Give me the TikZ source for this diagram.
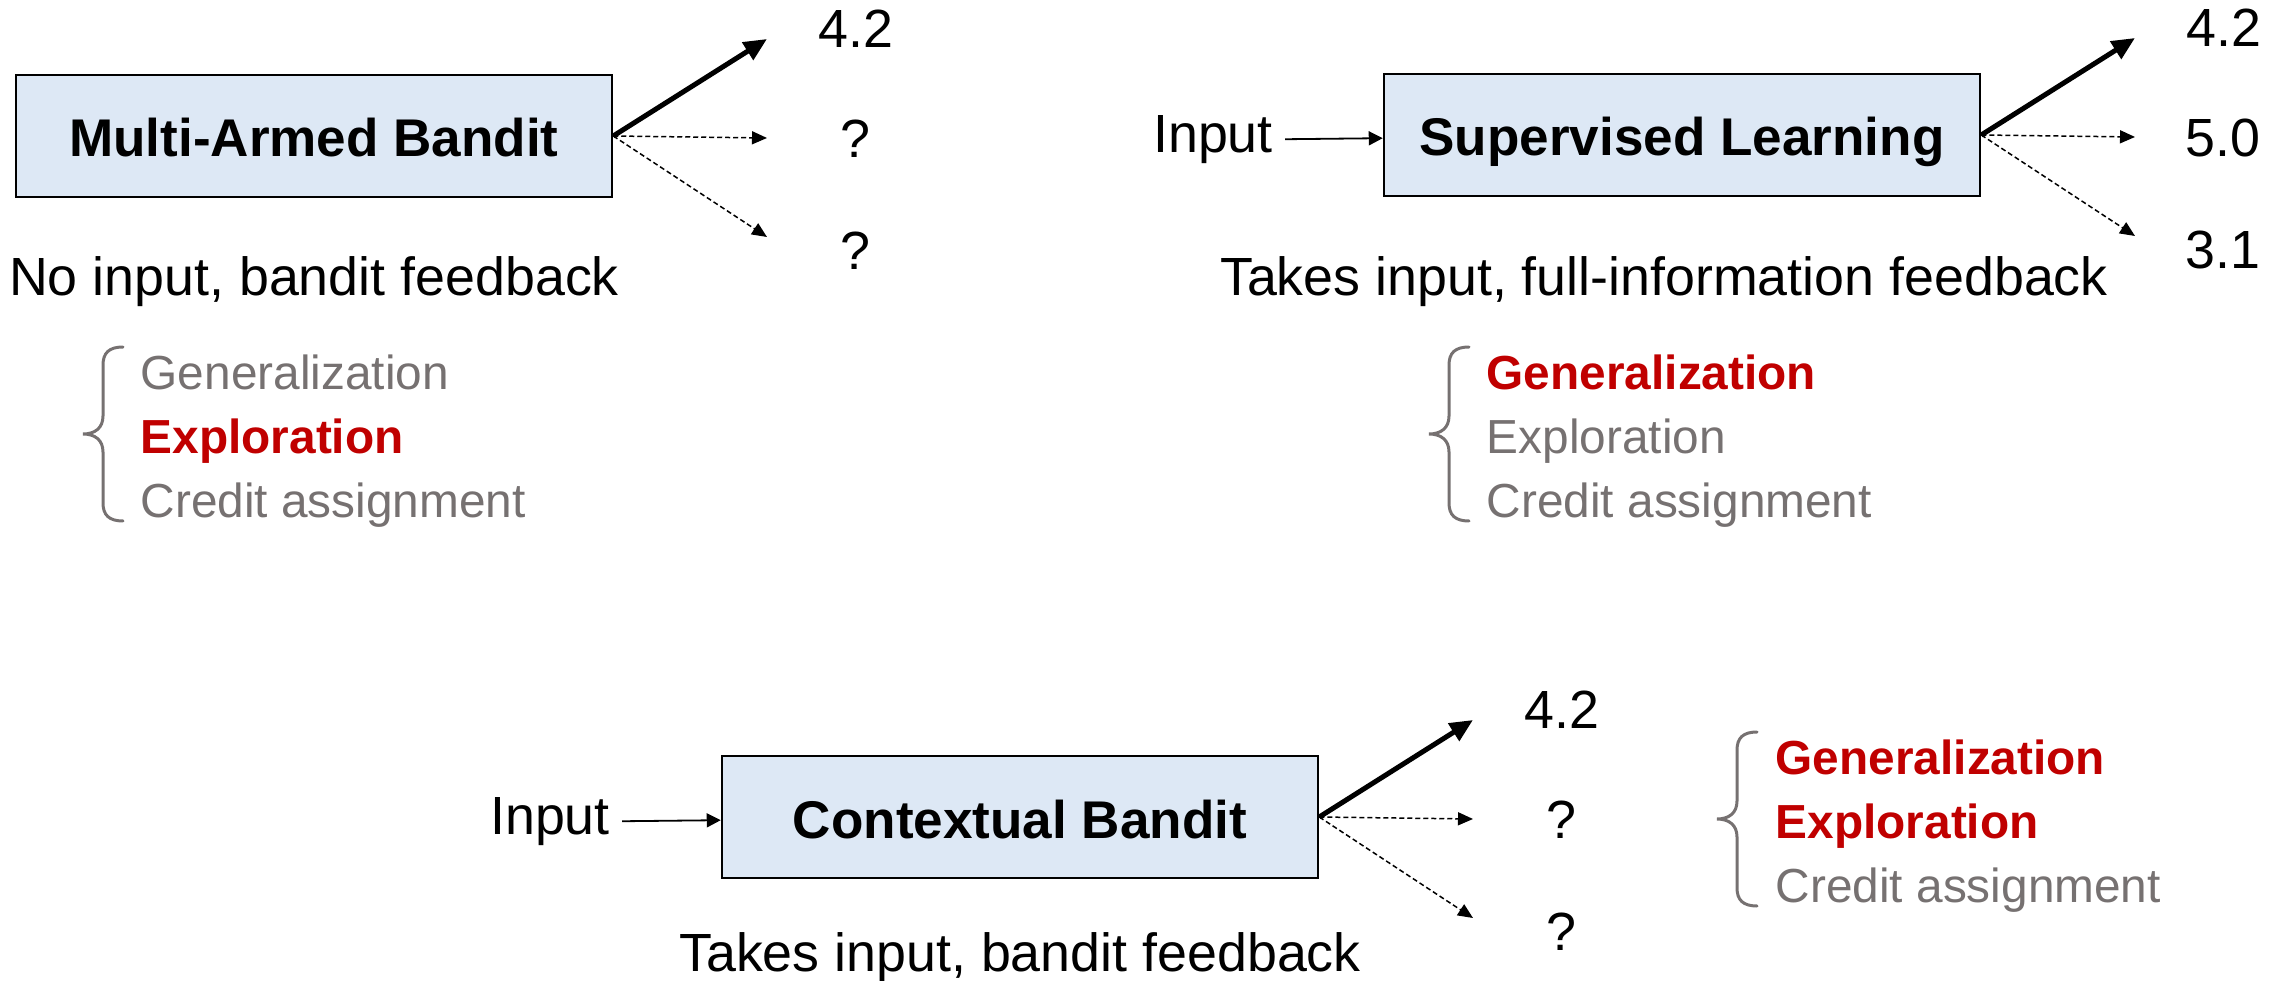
\documentclass[tikz,border=0pt]{standalone}
\usepackage{fontspec}
\setmainfont{Liberation Sans}
\usetikzlibrary{arrows.meta}

\definecolor{boxblue}{HTML}{DDE8F5}
\definecolor{keyred}{HTML}{C00000}
\definecolor{softgray}{HTML}{767171}

% curly brace in front of the three challenges
\tikzset{
  sidebrace/.pic={
    \draw[softgray, line width=0.3mm, line cap=round]
      (0,-87) .. controls (-14,-87) and (-20,-81) .. (-20,-69) -- (-20,-18)
      .. controls (-20,-6) and (-28,0) .. (-40,0)
      .. controls (-28,0) and (-20,6) .. (-20,18) -- (-20,69)
      .. controls (-20,81) and (-14,87) .. (0,87);
  }
}

\begin{document}
\begin{tikzpicture}[x=0.1mm, y=-0.1mm,
    every node/.style={font=\fontsize{15.3pt}{18pt}\selectfont},
    box/.style={rectangle, draw, line width=0.25mm, fill=boxblue, minimum width=59.6mm, minimum height=12.2mm, inner sep=0pt, text height=4.2mm, text depth=0mm, font=\fontsize{15.1pt}{18pt}\selectfont\bfseries},
    itemlist/.style={anchor=west, inner sep=0pt, align=left, text=softgray, font=\fontsize{13.6pt}{18.2pt}\selectfont},
    pick/.style={-{Triangle[length=2.3mm, width=2mm]}, line width=0.5mm},
    guess/.style={-{Triangle[length=1.5mm, width=1.3mm]}, line width=0.15mm, dash pattern=on 0.5mm off 0.3mm},
    feed/.style={-{Triangle[length=1.4mm, width=1.4mm]}, line width=0.18mm}]

    \useasboundingbox (0,0) rectangle (2290,981);

    % Multi-armed bandit (top left)
    \node (mab) [box] at (314,136) {Multi-Armed Bandit};
    \node (mabnote) [below of=mab, node distance=14.6mm] {No input, bandit feedback};

    % Rewards of the arms
    \node (mabr1) [right of=mab, node distance=54.2mm, yshift=10.7mm] {4.2};
    \node (mabr2) [right of=mab, node distance=54.1mm, yshift=-0.3mm] {?};
    \node (mabr3) [right of=mab, node distance=54.1mm, yshift=-11.5mm] {?};
    \coordinate [right of=mab, node distance=45.3mm, yshift=9.7mm] (mabt1);
    \coordinate [right of=mab, node distance=45.3mm, yshift=-0.2mm] (mabt2);
    \coordinate [right of=mab, node distance=45.3mm, yshift=-10.1mm] (mabt3);
    \draw[pick] (mab.east) -- (mabt1);
    \draw[guess] (mab.east) -- (mabt2);
    \draw[guess] (mab.east) -- (mabt3);

    % Challenges
    \node (mablist) [itemlist] at (140,441) {Generalization\\\textcolor{keyred}{\textbf{Exploration}}\\Credit assignment};
    \pic at ([xshift=-1.7mm, yshift=0.7mm]mablist.west) {sidebrace};

    % Supervised learning (top right)
    \node (sl) [box] at (1682,135) {Supervised Learning};
    \node (slin) [left of=sl, node distance=46.9mm, yshift=-0.5mm] {Input};
    \draw[feed] (slin) -- (sl);
    \node (slnote) [below of=sl, node distance=14.7mm, xshift=-1.8mm] {Takes input, full-information feedback};

    \node (slr1) [right of=sl, node distance=54.2mm, yshift=10.7mm] {4.2};
    \node (slr2) [right of=sl, node distance=54.1mm, yshift=-0.3mm] {5.0};
    \node (slr3) [right of=sl, node distance=54.1mm, yshift=-11.5mm] {3.1};
    \coordinate [right of=sl, node distance=45.3mm, yshift=9.7mm] (slt1);
    \coordinate [right of=sl, node distance=45.3mm, yshift=-0.2mm] (slt2);
    \coordinate [right of=sl, node distance=45.3mm, yshift=-10.1mm] (slt3);
    \draw[pick] (sl.east) -- (slt1);
    \draw[guess] (sl.east) -- (slt2);
    \draw[guess] (sl.east) -- (slt3);

    \node (sllist) [itemlist] at (1486,441) {\textcolor{keyred}{\textbf{Generalization}}\\Exploration\\Credit assignment};
    \pic at ([xshift=-1.7mm, yshift=0.7mm]sllist.west) {sidebrace};

    % Contextual bandit (bottom)
    \node (cb) [box] at (1020,817) {Contextual Bandit};
    \node (cbin) [left of=cb, node distance=47mm, yshift=-0.5mm] {Input};
    \draw[feed] (cbin) -- (cb);
    \node (cbnote) [below of=cb, node distance=14.1mm] {Takes input, bandit feedback};

    \node (cbr1) [right of=cb, node distance=54.2mm, yshift=10.7mm] {4.2};
    \node (cbr2) [right of=cb, node distance=54.1mm, yshift=-0.3mm] {?};
    \node (cbr3) [right of=cb, node distance=54.1mm, yshift=-11.5mm] {?};
    \coordinate [right of=cb, node distance=45.3mm, yshift=9.7mm] (cbt1);
    \coordinate [right of=cb, node distance=45.3mm, yshift=-0.2mm] (cbt2);
    \coordinate [right of=cb, node distance=45.3mm, yshift=-10.1mm] (cbt3);
    \draw[pick] (cb.east) -- (cbt1);
    \draw[guess] (cb.east) -- (cbt2);
    \draw[guess] (cb.east) -- (cbt3);

    \node (cblist) [itemlist] at (1775,826) {\textcolor{keyred}{\textbf{Generalization}}\\\textcolor{keyred}{\textbf{Exploration}}\\Credit assignment};
    \pic at ([xshift=-1.8mm, yshift=0.7mm]cblist.west) {sidebrace};

\end{tikzpicture}
\end{document}
